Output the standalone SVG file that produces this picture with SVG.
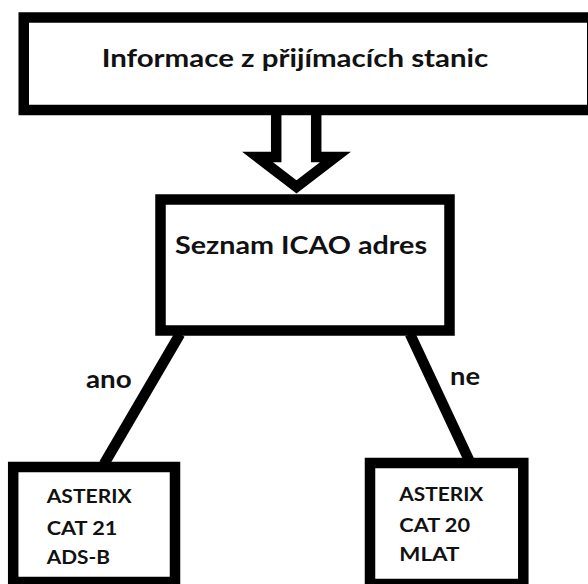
<svg xmlns="http://www.w3.org/2000/svg" width="588" height="584" viewBox="0 0 588 584">
<style>
.box{fill:#fff;stroke:#000;stroke-width:10.5}
.t{font-family:Lato,"Liberation Sans",Arial,sans-serif;font-weight:700;fill:#111}
.big{font-size:25.5px}
.small{font-size:19.5px}
.conn{stroke:#000;stroke-width:10.5;fill:none}
</style>
<rect width="588" height="584" fill="#fff"/>
<g id="connectors">
<line class="conn" x1="180" y1="334" x2="104" y2="464"/>
<line class="conn" x1="410" y1="334" x2="469" y2="460"/>
<path class="conn" fill="#fff" style="fill:#fff;stroke-linejoin:miter" d="M276.2,112 V157 H257.5 L296.5,187 L335.5,157 H316.2 V112"/>
<text class="t big" x="86" y="388" textLength="45.7" lengthAdjust="spacingAndGlyphs">ano</text>
<text class="t big" x="450" y="385" textLength="30" lengthAdjust="spacingAndGlyphs">ne</text>
</g>
<g id="node-info">
<rect class="box" x="23.75" y="17.5" width="568.5" height="92.5"/>
<text class="t big" x="101.7" y="66.7" textLength="386.6" lengthAdjust="spacingAndGlyphs">Informace z přijímacích stanic</text>
</g>
<g id="node-icao">
<rect class="box" x="160.5" y="199.5" width="289" height="131"/>
<text class="t big" x="175" y="254" textLength="252" lengthAdjust="spacingAndGlyphs">Seznam ICAO adres</text>
</g>
<g id="node-adsb">
<rect class="box" x="13.2" y="467" width="161.8" height="115"/>
<text class="t small" x="46.7" y="503.3" textLength="85" lengthAdjust="spacingAndGlyphs">ASTERIX</text>
<text class="t small" x="46.7" y="534.7" textLength="70.6" lengthAdjust="spacingAndGlyphs">CAT 21</text>
<text class="t small" x="46.7" y="564" textLength="63.3" lengthAdjust="spacingAndGlyphs">ADS-B</text>
</g>
<g id="node-mlat">
<rect class="box" x="370" y="463" width="153.3" height="121"/>
<text class="t small" x="399.3" y="501.3" textLength="84" lengthAdjust="spacingAndGlyphs">ASTERIX</text>
<text class="t small" x="399.3" y="531.7" textLength="70.7" lengthAdjust="spacingAndGlyphs">CAT 20</text>
<text class="t small" x="399.3" y="560.7" textLength="60" lengthAdjust="spacingAndGlyphs">MLAT</text>
</g>
</svg>
